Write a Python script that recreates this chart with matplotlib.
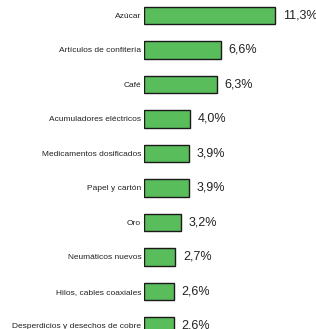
import matplotlib
matplotlib.use("Agg")
import matplotlib.pyplot as plt

categories = ["Azúcar", "Artículos de confitería", "Café", "Acumuladores eléctricos",
              "Medicamentos dosificados", "Papel y cartón", "Oro", "Neumáticos nuevos",
              "Hilos, cables coaxiales", "Desperdicios y desechos de cobre"]
values = [11.3, 6.6, 6.3, 4.0, 3.9, 3.9, 3.2, 2.7, 2.6, 2.6]
value_labels = ["11,3%", "6,6%", "6,3%", "4,0%", "3,9%", "3,9%", "3,2%", "2,7%", "2,6%", "2,6%"]

plt.rcParams["font.family"] = ["Liberation Sans", "DejaVu Sans"]

fig = plt.figure(figsize=(3.16, 3.29), dpi=100)
ax = fig.add_axes([144 / 316, 0, 172 / 316, 1])

pos = range(len(categories))
ax.barh(pos, values, height=0.5, color="#5abd5b", edgecolor="#1a1a1a", linewidth=1)

for i, (v, lab) in enumerate(zip(values, value_labels)):
    ax.text(v + 0.65, i, lab, va="center", ha="left", fontsize=9, color="#222222")

ax.set_yticks(list(pos))
ax.set_yticklabels(categories, fontsize=6, color="#222222")
ax.tick_params(axis="y", length=0, pad=2)
ax.set_xticks([])
ax.set_xlim(0, 14.83)
ax.set_ylim(9.087, -0.449)
for s in ax.spines.values():
    s.set_visible(False)

fig.savefig("out.png", dpi=100)
